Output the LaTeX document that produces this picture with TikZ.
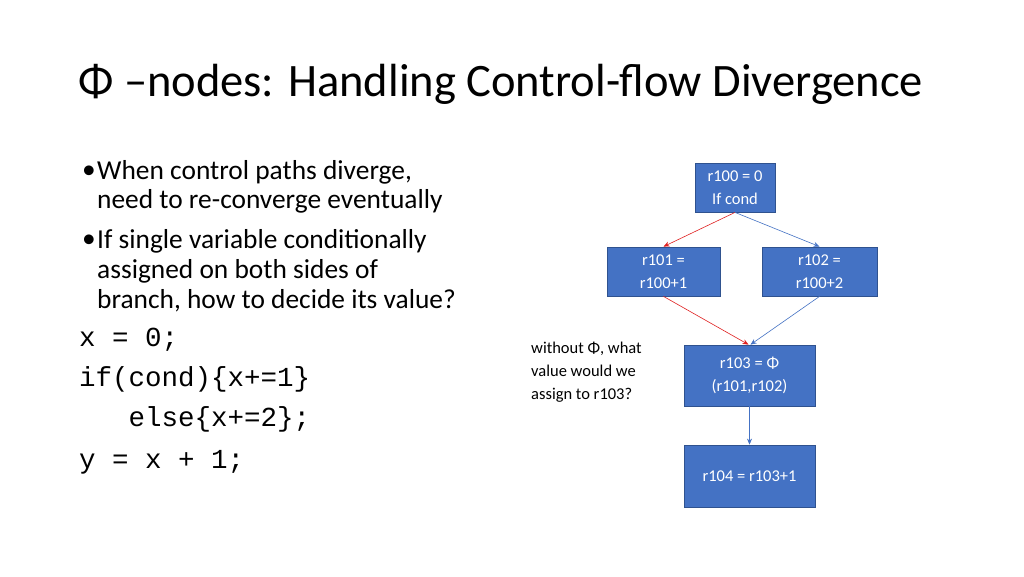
\documentclass[tikz,border=0pt]{standalone}
\usepackage{fontspec}
\setmainfont{Carlito}
\newfontfamily\codefont{Liberation Mono}
\usetikzlibrary{arrows.meta}
\definecolor{boxblue}{HTML}{4472C4}
\definecolor{boxedge}{HTML}{2F528F}
\definecolor{arrred}{HTML}{E02020}
\definecolor{arrblue}{HTML}{4472C4}
\begin{document}
\begin{tikzpicture}[x=1pt,y=-1pt,
  blk/.style={draw=boxedge,fill=boxblue,text=white,font=\fontsize{16.5}{23}\selectfont,align=center,inner sep=0pt,line width=0.8pt},
  ra/.style={draw=arrred,-{Stealth[length=6pt,width=5pt]},line width=0.6pt},
  ba/.style={draw=arrblue,-{Stealth[length=6pt,width=5pt]},line width=0.6pt},
  body/.style={anchor=west,inner sep=0pt,font=\fontsize{27.4}{30}\selectfont},
  code/.style={anchor=west,inner sep=0pt,font=\codefont\fontsize{27.5}{30}\selectfont}]
\useasboundingbox[fill=white] (0,0) rectangle (1024,576);
\node[anchor=west,inner sep=0pt,font=\fontsize{46.5}{50}\selectfont] (title) at (78,84) {Φ –nodes: Handling Control-flow Divergence};
\node[body] (b1) at (82,172) {•};
\node[body] (t1) at (97,172) {When control paths diverge,};
\node[body] (t2) at (97,201) {need to re-converge eventually};
\node[body] (b2) at (82,241) {•};
\node[body] (t3) at (97,241) {If single variable conditionally};
\node[body] (t4) at (97,271) {assigned on both sides of};
\node[body] (t5) at (97,301) {branch, how to decide its value?};
\node[code] (c1) at (79,340) {x = 0;};
\node[code] (c2) at (79,379) {if(cond)\{x+=1\}};
\node[code] (c3) at (79,419) {\ \ \ else\{x+=2\};};
\node[code] (c4) at (79,462) {y = x + 1;};
\node[blk,minimum width=80pt,minimum height=49pt] (n1) at (735,187.5) {r100 = 0\\If cond};
\node[blk,minimum width=113pt,minimum height=49pt] (n2) at (663.5,271.5) {r101 =\\r100+1};
\node[blk,minimum width=115pt,minimum height=49pt] (n3) at (819.5,271.5) {r102 =\\r100+2};
\node[blk,minimum width=131pt,minimum height=61pt] (n4) at (749.5,375.5) {r103 = Φ\\(r101,r102)};
\node[blk,minimum width=131pt,minimum height=62pt] (n5) at (749.5,476) {r104 = r103+1};
\node[anchor=north west,align=left,inner sep=0pt,font=\fontsize{16.5}{23}\selectfont] (note) at (531,342) {without Φ, what\\value would we\\assign to r103?};
\draw[ra] (n1.south) -- (n2.north);
\draw[ba] (n1.south) -- (n3.north);
\draw[ra] (n2.south) -- ([xshift=-1pt]n4.north);
\draw[ba] (n3.south) -- ([xshift=1pt]n4.north);
\draw[ba] (n4.south) -- (n5.north);
\end{tikzpicture}
\end{document}
